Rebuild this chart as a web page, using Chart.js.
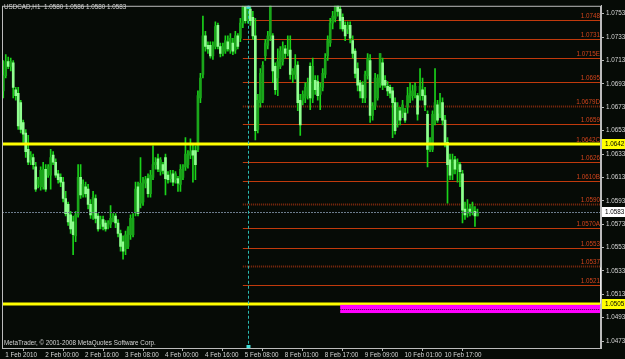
<!DOCTYPE html>
<html>
<head>
<meta charset="utf-8">
<script src="https://cdn.jsdelivr.net/npm/chart.js@4.4.0/dist/chart.umd.min.js"></script>
<style>
html, body { margin: 0; padding: 0; background: #060b06; }
canvas { display: block; }
</style>
</head>
<body>
<canvas id="chart" width="625" height="359"></canvas>
<script>
// USDCAD H1 candles
const openP = [1.0687,1.0700,1.0712,1.0708,1.0711,1.0688,1.0685,1.0677,1.0660,1.0651,
1.0637,1.0628,1.0630,1.0622,1.0607,1.0605,1.0605,1.0620,1.0615,1.0615,
1.0632,1.0626,1.0616,1.0613,1.0609,1.0595,1.0590,1.0581,1.0575,1.0563,
1.0581,1.0613,1.0598,1.0605,1.0603,1.0590,1.0580,1.0595,1.0580,1.0573,
1.0577,1.0574,1.0571,1.0573,1.0577,1.0580,1.0574,1.0565,1.0558,1.0552,
1.0554,1.0564,1.0564,1.0584,1.0605,1.0591,1.0592,1.0608,1.0612,1.0599,
1.0613,1.0624,1.0629,1.0618,1.0624,1.0630,1.0615,1.0612,1.0616,1.0611,
1.0612,1.0607,1.0613,1.0622,1.0624,1.0632,1.0636,1.0636,1.0637,1.0681,
1.0701,1.0734,1.0726,1.0726,1.0717,1.0725,1.0743,1.0725,1.0719,1.0721,
1.0729,1.0722,1.0728,1.0722,1.0734,1.0732,1.0745,1.0759,1.0747,1.0757,
1.0750,1.0734,1.0654,1.0677,1.0679,1.0717,1.0726,1.0734,1.0734,1.0708,
1.0698,1.0708,1.0712,1.0723,1.0719,1.0722,1.0701,1.0701,1.0709,1.0679,
1.0679,1.0681,1.0683,1.0708,1.0681,1.0696,1.0695,1.0684,1.0690,1.0701,
1.0717,1.0728,1.0745,1.0749,1.0760,1.0757,1.0750,1.0743,1.0740,1.0743,
1.0730,1.0721,1.0706,1.0694,1.0692,1.0681,1.0700,1.0713,1.0666,1.0674,
1.0681,1.0694,1.0711,1.0696,1.0691,1.0690,1.0687,1.0677,1.0662,1.0670,
1.0668,1.0668,1.0673,1.0681,1.0683,1.0687,1.0683,1.0683,1.0688,1.0683,
1.0667,1.0637,1.0637,1.0662,1.0675,1.0668,1.0677,1.0662,1.0643,1.0628,
1.0616,1.0628,1.0620,1.0624,1.0616,1.0586,1.0582,1.0586,1.0584,1.0584,
1.0580];
const highP = [1.0713,1.0718,1.0716,1.0715,1.0713,1.0690,1.0690,1.0679,1.0662,1.0654,
1.0649,1.0635,1.0633,1.0626,1.0613,1.0622,1.0626,1.0624,1.0624,1.0637,
1.0635,1.0629,1.0619,1.0616,1.0613,1.0601,1.0592,1.0584,1.0580,1.0584,
1.0624,1.0624,1.0611,1.0609,1.0607,1.0594,1.0601,1.0598,1.0582,1.0580,
1.0580,1.0576,1.0576,1.0589,1.0582,1.0582,1.0577,1.0568,1.0563,1.0567,
1.0571,1.0581,1.0582,1.0609,1.0609,1.0630,1.0613,1.0614,1.0616,1.0619,
1.0640,1.0630,1.0633,1.0630,1.0626,1.0633,1.0618,1.0619,1.0619,1.0618,
1.0614,1.0624,1.0624,1.0647,1.0636,1.0646,1.0641,1.0640,1.0687,1.0702,
1.0751,1.0738,1.0729,1.0729,1.0729,1.0746,1.0745,1.0728,1.0728,1.0734,
1.0734,1.0736,1.0732,1.0738,1.0736,1.0749,1.0760,1.0760,1.0759,1.0759,
1.0755,1.0749,1.0684,1.0706,1.0712,1.0731,1.0738,1.0760,1.0736,1.0711,
1.0723,1.0725,1.0729,1.0726,1.0734,1.0734,1.0706,1.0718,1.0712,1.0684,
1.0687,1.0694,1.0698,1.0711,1.0715,1.0700,1.0700,1.0694,1.0706,1.0719,
1.0734,1.0749,1.0755,1.0760,1.0760,1.0760,1.0753,1.0746,1.0746,1.0746,
1.0734,1.0723,1.0711,1.0696,1.0695,1.0704,1.0719,1.0718,1.0677,1.0702,
1.0701,1.0719,1.0715,1.0700,1.0695,1.0692,1.0690,1.0681,1.0677,1.0673,
1.0679,1.0672,1.0690,1.0694,1.0692,1.0694,1.0685,1.0706,1.0698,1.0690,
1.0670,1.0647,1.0670,1.0706,1.0679,1.0685,1.0681,1.0666,1.0647,1.0633,
1.0633,1.0631,1.0629,1.0626,1.0619,1.0592,1.0594,1.0590,1.0592,1.0588,
1.0586];
const lowP = [1.0681,1.0698,1.0706,1.0704,1.0681,1.0679,1.0654,1.0651,1.0643,1.0630,
1.0624,1.0624,1.0620,1.0601,1.0604,1.0602,1.0603,1.0601,1.0613,1.0603,
1.0624,1.0613,1.0608,1.0605,1.0592,1.0580,1.0572,1.0565,1.0547,1.0558,
1.0579,1.0595,1.0596,1.0596,1.0586,1.0578,1.0577,1.0574,1.0567,1.0569,
1.0568,1.0567,1.0569,1.0570,1.0575,1.0570,1.0562,1.0550,1.0543,1.0547,
1.0552,1.0560,1.0562,1.0580,1.0580,1.0587,1.0589,1.0604,1.0596,1.0596,
1.0611,1.0620,1.0618,1.0615,1.0616,1.0598,1.0608,1.0609,1.0606,1.0608,
1.0601,1.0601,1.0611,1.0619,1.0621,1.0629,1.0609,1.0611,1.0635,1.0677,
1.0698,1.0721,1.0719,1.0715,1.0714,1.0723,1.0723,1.0716,1.0717,1.0719,
1.0721,1.0719,1.0718,1.0719,1.0723,1.0729,1.0741,1.0745,1.0745,1.0743,
1.0731,1.0645,1.0651,1.0673,1.0677,1.0713,1.0723,1.0730,1.0694,1.0684,
1.0683,1.0706,1.0709,1.0715,1.0717,1.0697,1.0694,1.0697,1.0670,1.0649,
1.0675,1.0677,1.0680,1.0671,1.0677,1.0684,1.0679,1.0671,1.0687,1.0698,
1.0713,1.0725,1.0740,1.0746,1.0751,1.0740,1.0738,1.0730,1.0736,1.0728,
1.0715,1.0698,1.0687,1.0681,1.0677,1.0677,1.0697,1.0660,1.0662,1.0671,
1.0679,1.0690,1.0688,1.0690,1.0683,1.0681,1.0647,1.0650,1.0656,1.0658,
1.0664,1.0660,1.0668,1.0677,1.0679,1.0681,1.0662,1.0679,1.0679,1.0670,
1.0622,1.0635,1.0635,1.0658,1.0660,1.0664,1.0658,1.0639,1.0591,1.0611,
1.0611,1.0616,1.0609,1.0605,1.0574,1.0577,1.0579,1.0580,1.0581,1.0571,
1.0580];
const closeP = [1.0700,1.0712,1.0708,1.0712,1.0690,1.0683,1.0657,1.0654,1.0650,1.0635,
1.0626,1.0632,1.0624,1.0603,1.0611,1.0619,1.0620,1.0603,1.0622,1.0630,
1.0626,1.0615,1.0611,1.0609,1.0595,1.0582,1.0575,1.0569,1.0564,1.0581,
1.0613,1.0598,1.0607,1.0599,1.0590,1.0581,1.0596,1.0578,1.0569,1.0577,
1.0571,1.0569,1.0574,1.0578,1.0580,1.0574,1.0565,1.0554,1.0550,1.0564,
1.0569,1.0578,1.0578,1.0603,1.0582,1.0608,1.0609,1.0611,1.0599,1.0615,
1.0624,1.0626,1.0620,1.0628,1.0619,1.0612,1.0611,1.0615,1.0609,1.0616,
1.0608,1.0620,1.0622,1.0633,1.0633,1.0635,1.0632,1.0624,1.0683,1.0698,
1.0734,1.0725,1.0723,1.0717,1.0726,1.0742,1.0725,1.0719,1.0725,1.0730,
1.0723,1.0732,1.0721,1.0734,1.0725,1.0745,1.0759,1.0747,1.0757,1.0747,
1.0734,1.0653,1.0679,1.0702,1.0709,1.0728,1.0734,1.0760,1.0704,1.0688,
1.0712,1.0721,1.0725,1.0719,1.0722,1.0701,1.0704,1.0708,1.0677,1.0658,
1.0684,1.0690,1.0694,1.0681,1.0708,1.0688,1.0683,1.0690,1.0702,1.0715,
1.0730,1.0745,1.0751,1.0760,1.0755,1.0747,1.0740,1.0734,1.0743,1.0732,
1.0719,1.0702,1.0692,1.0687,1.0681,1.0701,1.0715,1.0666,1.0674,1.0698,
1.0698,1.0719,1.0692,1.0692,1.0687,1.0685,1.0677,1.0653,1.0673,1.0662,
1.0675,1.0662,1.0683,1.0685,1.0687,1.0691,1.0667,1.0691,1.0683,1.0675,
1.0637,1.0643,1.0667,1.0677,1.0662,1.0677,1.0662,1.0643,1.0624,1.0615,
1.0628,1.0620,1.0626,1.0618,1.0585,1.0581,1.0586,1.0584,1.0588,1.0580,
1.0583];

const yTicks = [1.0473,1.0493,1.0513,1.0533,1.0553,1.0573,1.0593,1.0613,1.0633,1.0653,1.0673,1.0693,1.0713,1.0733,1.0753];
const tickLabels = ['1 Feb 2010','2 Feb 00:00','2 Feb 16:00','3 Feb 08:00','4 Feb 00:00','4 Feb 16:00',
  '5 Feb 08:00','8 Feb 01:00','8 Feb 17:00','9 Feb 09:00','10 Feb 01:00','10 Feb 17:00'];

// horizontal levels drawn from 5 Feb 08:00 onward
const levelPrices = [1.0748,1.0731,1.07155,1.0695,1.0674,1.0659,1.0642,1.0626,1.0610,1.0590,1.0570,1.0553,1.0537,1.0521];
const levelNames  = ['1.0748','1.0731','1.0715E','1.0695','1.0679D','1.0659','1.0642C','1.0626','1.0610B','1.0590','1.0570A','1.0553','1.0537','1.0521'];
const dottedLevels = ['1.0679D','1.0590','1.0537'];
const yellowLines = [1.0642, 1.0505];
const bidPrice = 1.0583;
const zoneTop = 1.0504, zoneBottom = 1.0497;

const SLOTS = 240, LEVEL_START = 96, CURSOR_BAR = 98, ZONE_START = 135;
const FONT = '6.3px "Liberation Sans", Arial, sans-serif';

const labels = Array.from({ length: SLOTS }, (_, i) => i);
const wicks = lowP.map((l, i) => [l, highP[i]]);
const bodies = openP.map((o, i) => [Math.min(o, closeP[i]), Math.max(o, closeP[i])]);
const bodyColors = openP.map((o, i) => closeP[i] >= o ? '#1aa61a' : '#90ff90');

const overlay = {
  id: 'overlay',
  beforeDraw(chart) {
    const c = chart.ctx;
    c.save();
    c.fillStyle = '#060b06';
    c.fillRect(0, 0, chart.width, chart.height);
    c.restore();
  },
  beforeDatasetsDraw(chart) {
    const c = chart.ctx, a = chart.chartArea, ys = chart.scales.y, xs = chart.scales.x;
    const x0 = xs.getPixelForValue(LEVEL_START);
    c.save();
    c.font = FONT;
    c.textAlign = 'right';
    c.textBaseline = 'bottom';
    levelPrices.forEach((p, i) => {
      const y = Math.round(ys.getPixelForValue(p)) + 0.5;
      const dotted = dottedLevels.includes(levelNames[i]);
      c.strokeStyle = dotted ? '#862c10' : '#c03a0c';
      c.lineWidth = dotted ? 2 : 1;
      c.setLineDash(dotted ? [1, 1] : []);
      c.beginPath(); c.moveTo(x0, y); c.lineTo(a.right, y); c.stroke();
      c.fillStyle = '#d2441c';
      c.fillText(levelNames[i], a.right - 1, y - 1);
    });
    c.restore();
  },
  afterDraw(chart) {
    const c = chart.ctx, a = chart.chartArea, ys = chart.scales.y, xs = chart.scales.x;
    c.save();
    // bid line
    let y = Math.round(ys.getPixelForValue(bidPrice)) + 0.5;
    c.strokeStyle = '#6c7c8c'; c.lineWidth = 1; c.setLineDash([2, 1]);
    c.beginPath(); c.moveTo(a.left, y); c.lineTo(a.right, y); c.stroke();
    c.setLineDash([]);
    // yellow lines
    c.strokeStyle = '#ffff00'; c.lineWidth = 3;
    yellowLines.forEach(p => {
      const yy = Math.round(ys.getPixelForValue(p));
      c.beginPath(); c.moveTo(a.left, yy); c.lineTo(a.right, yy); c.stroke();
    });
    // magenta zone
    const zx = xs.getPixelForValue(ZONE_START);
    const zt = ys.getPixelForValue(zoneTop), zb = ys.getPixelForValue(zoneBottom);
    c.fillStyle = '#ff00ff';
    c.fillRect(zx, zt, a.right - zx, zb - zt);
    c.strokeStyle = '#3a0a3a'; c.lineWidth = 1; c.setLineDash([1, 1]);
    const zm = Math.round((zt + zb) / 2) + 0.5;
    c.beginPath(); c.moveTo(zx, zm); c.lineTo(a.right, zm); c.stroke();
    c.setLineDash([]);
    // cursor line
    const cx = Math.round(xs.getPixelForValue(CURSOR_BAR)) + 0.5;
    c.strokeStyle = '#2ab8b0'; c.setLineDash([3, 2]);
    c.beginPath(); c.moveTo(cx, a.top); c.lineTo(cx, a.bottom); c.stroke();
    c.setLineDash([]);
    c.fillStyle = '#40e0d8';
    c.fillRect(cx - 2, a.top, 4, 3);
    c.fillRect(cx - 2, a.bottom - 3, 4, 3);
    // frame
    c.strokeStyle = '#bcbcbc'; c.lineWidth = 1;
    c.strokeRect(a.left + 0.5, a.top + 0.5, a.right - a.left - 1, a.bottom - a.top);
    c.strokeStyle = '#e8e8e8';
    const ty = ys.getPixelForValue(1.0536), by = ys.getPixelForValue(yellowLines[1]);
    c.beginPath(); c.moveTo(a.right - 0.5, ty); c.lineTo(a.right - 0.5, by); c.stroke();
    // price boxes on the axis
    c.font = FONT; c.textAlign = 'left'; c.textBaseline = 'middle';
    [[yellowLines[0], '#ffff00'], [bidPrice, '#ffffff'], [yellowLines[1], '#ffff00']].forEach(([p, col]) => {
      const yy = Math.round(ys.getPixelForValue(p));
      c.fillStyle = col;
      c.fillRect(a.right + 1, yy - 5, chart.width - a.right - 1, 10);
      c.fillStyle = '#000000';
      c.fillText(p.toFixed(4), a.right + 4, yy);
    });
    // captions
    c.fillStyle = '#d6d6d6';
    c.textBaseline = 'middle';
    c.fillText('USDCAD,H1  ' + [openP, highP, lowP, closeP].map(s => s[s.length - 1].toFixed(4)).join(' '), 4, 7);
    c.fillText('MetaTrader, \u00a9 2001-2008 MetaQuotes Software Corp.', 4, 343);
    c.restore();
  }
};

new Chart(document.getElementById('chart'), {
  type: 'bar',
  data: {
    labels: labels,
    datasets: [
      { data: bodies, backgroundColor: bodyColors, barThickness: 2, grouped: false, order: 0, borderWidth: 0 },
      { data: wicks, backgroundColor: '#1ad21a', barThickness: 1, grouped: false, order: 1, borderWidth: 0 }
    ]
  },
  options: {
    responsive: false,
    animation: false,
    layout: { padding: { left: 2, top: 2, right: 0, bottom: 0 } },
    plugins: { legend: { display: false }, tooltip: { enabled: false } },
    scales: {
      x: {
        grid: { drawOnChartArea: false, tickLength: 3, color: '#bcbcbc' },
        border: { color: '#bcbcbc' },
        ticks: {
          autoSkip: false, maxRotation: 0, align: 'start', labelOffset: 2, padding: 0,
          color: '#d6d6d6', font: { family: '"Liberation Sans", Arial, sans-serif', size: 6.3 },
          callback: (v, i) => (i % 16 === 0 && tickLabels[i / 16]) ? tickLabels[i / 16] : null
        },
        afterFit: s => { s.height = 11; }
      },
      y: {
        position: 'right',
        min: 1.04671, max: 1.07598,
        grid: { drawOnChartArea: false, tickLength: 3, color: '#bcbcbc' },
        border: { color: '#bcbcbc' },
        afterBuildTicks: s => { s.ticks = yTicks.map(v => ({ value: v })); },
        ticks: {
          padding: 2, color: '#d6d6d6', font: { family: '"Liberation Sans", Arial, sans-serif', size: 6.3 },
          callback: v => v.toFixed(4)
        },
        afterFit: s => { s.width = 24; }
      }
    }
  },
  plugins: [overlay]
});
</script>
</body>
</html>
